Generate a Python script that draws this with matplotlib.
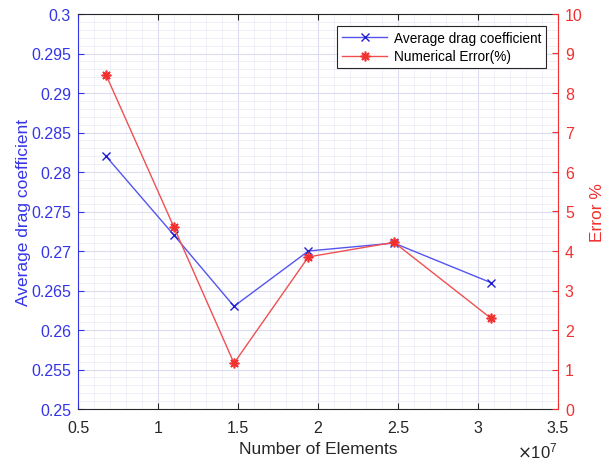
import numpy as np
import matplotlib.pyplot as plt
from matplotlib.ticker import MultipleLocator

plt.rcParams['font.family'] = ['Liberation Sans', 'DejaVu Sans']

# data
elements = [0.675e7, 1.10e7, 1.475e7, 1.94e7, 2.475e7, 3.08e7]
drag_coef = [0.282, 0.272, 0.263, 0.270, 0.271, 0.266]
num_error = [8.46, 4.60, 1.16, 3.85, 4.22, 2.30]

blue = '#3535e8'
red = '#f23030'

fig = plt.figure(figsize=(6.08, 4.6), dpi=100)
ax = fig.add_axes([78/608, 1 - 410/460, 480/608, 395/460])
ax2 = ax.twinx()

x = np.array(elements) / 1e7
l1, = ax.plot(x, drag_coef, color='#5555ee', marker='x', markersize=6,
              markeredgecolor='#2020d0', lw=1, label='Average drag coefficient')
l2, = ax2.plot(x, num_error, color='#f05050', marker=(8, 2, 0), markersize=7,
               markeredgecolor=red, markeredgewidth=1.2, lw=1,
               label='Numerical Error(%)')

ax.set_xlim(0.5, 3.5)
ax.set_ylim(0.25, 0.3)
ax2.set_ylim(0, 10)
ax.xaxis.set_minor_locator(MultipleLocator(0.1))
ax.yaxis.set_minor_locator(MultipleLocator(0.001))
ax2.yaxis.set_major_locator(MultipleLocator(1))
xt = np.arange(0.5, 3.51, 0.5)
ax.set_xticks(xt)
ax.set_xticklabels([f'{v:g}' for v in xt])
yt = np.round(np.arange(0.25, 0.3001, 0.005), 3)
ax.set_yticks(yt)
ax.set_yticklabels([f'{v:g}' for v in yt])

ax.grid(which='major', color='#dcdcf0', lw=0.8)
ax.grid(which='minor', color='#ececf6', lw=0.6)
ax.set_axisbelow(True)

ax.tick_params(which='both', direction='in', top=True, right=False)
ax.tick_params(which='minor', length=0)
ax.tick_params(axis='x', labelsize=11.5, colors='#262626', length=4, pad=8)
ax.tick_params(axis='y', labelsize=11.5, colors=blue, length=4, pad=5)
ax2.tick_params(axis='y', labelsize=11.5, colors=red, direction='in', length=4, pad=5)

for s in ['top', 'bottom']:
    ax.spines[s].set_color('#262626')
ax.spines['left'].set_color(blue)
ax2.spines['left'].set_visible(False)
ax2.spines['right'].set_color(red)
ax.spines['right'].set_visible(False)
ax2.spines['top'].set_visible(False)
ax2.spines['bottom'].set_visible(False)

ax.set_xlabel('Number of Elements', fontsize=12.5, color='#262626', labelpad=4)
ax.set_ylabel('Average drag coefficient', fontsize=12.5, color=blue, labelpad=0)
ax2.set_ylabel('Error %', fontsize=12.5, color=red, labelpad=5)
ax.text(0.998, -0.104, r'$\times\mathregular{10^7}$', transform=ax.transAxes,
        ha='right', va='center', fontsize=12, color='#262626')

leg = ax2.legend(handles=[l1, l2], loc='upper right', fontsize=9.8,
                 fancybox=False, framealpha=1, edgecolor='#262626',
                 borderpad=0.35, handlelength=3.3, handletextpad=0.5,
                 labelspacing=0.35, borderaxespad=0,
                 bbox_to_anchor=(0.975, 0.97))
leg.get_frame().set_linewidth(0.8)

fig.savefig('out.png', dpi=100)
